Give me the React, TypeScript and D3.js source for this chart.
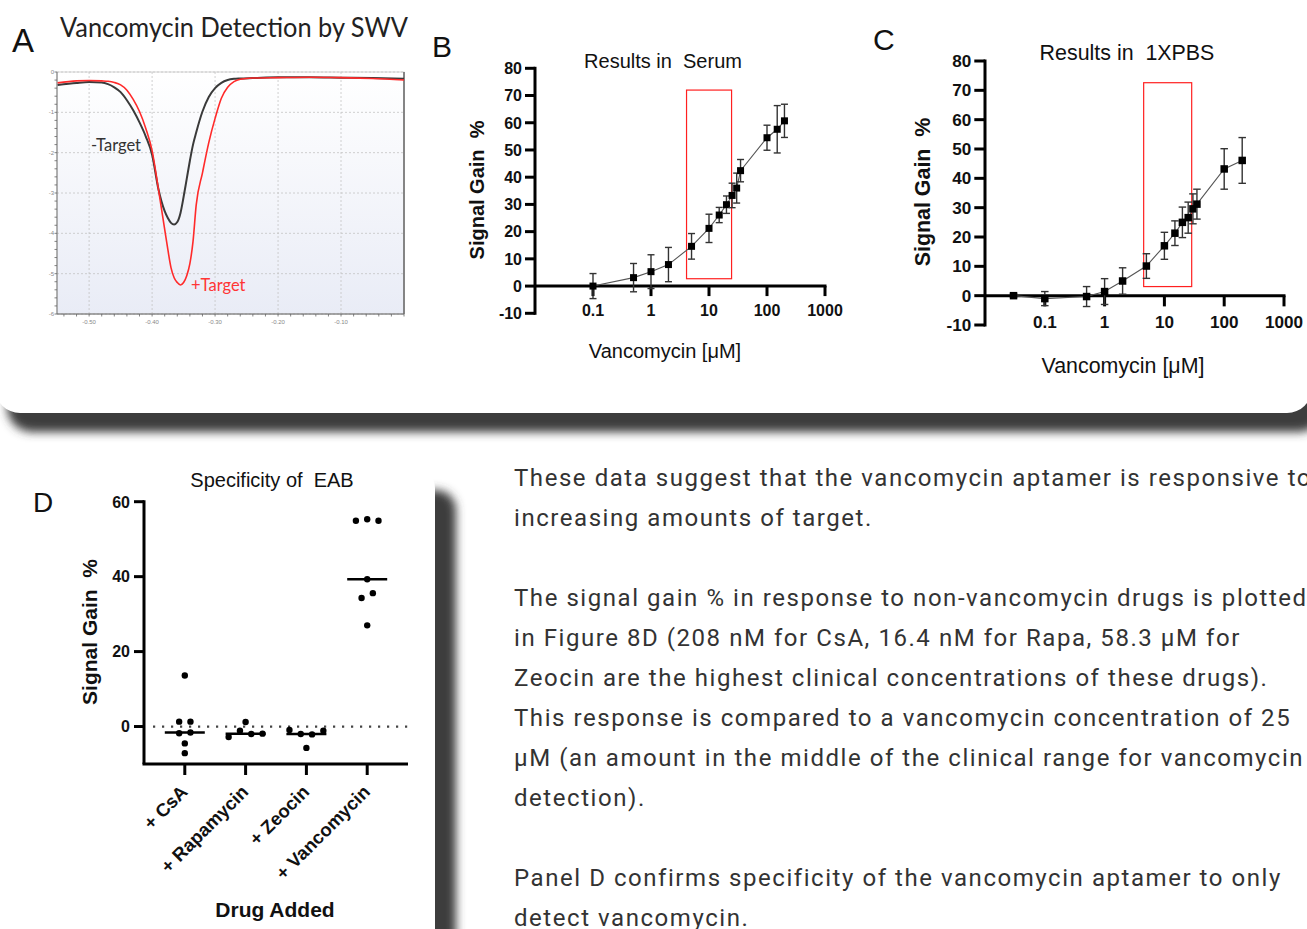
import React from "react";
import * as d3 from "d3";

const W = 1307;
const H = 929;

// ---------- Panel A : square wave voltammograms ----------
const swvPotential = [
  -0.55, -0.52, -0.5, -0.48, -0.47, -0.46, -0.45, -0.44, -0.43, -0.42, -0.41, -0.4, -0.39, -0.38,
  -0.375, -0.37, -0.365, -0.36, -0.355, -0.35, -0.345, -0.34, -0.335, -0.33, -0.32, -0.31, -0.3,
  -0.29, -0.28, -0.27, -0.26, -0.24, -0.2, -0.15, -0.1, -0.05, 0.0,
];
const swvNoTarget = [
  -0.32, -0.27, -0.25, -0.26, -0.3, -0.38, -0.5, -0.7, -0.95, -1.25, -1.6, -2.05, -2.9, -3.45,
  -3.62, -3.74, -3.78, -3.72, -3.5, -3.1, -2.65, -2.2, -1.8, -1.5, -0.98, -0.62, -0.4,
  -0.27, -0.2, -0.17, -0.16, -0.15, -0.13, -0.13, -0.14, -0.15, -0.17,
];
const swvTarget = [
  -0.27, -0.22, -0.21, -0.22, -0.23, -0.26, -0.32, -0.45, -0.68, -0.98, -1.4, -1.95, -2.9, -3.9,
  -4.4, -4.85, -5.1, -5.22, -5.28, -5.22, -5.05, -4.75, -4.2, -3.3, -2.5, -1.75, -1.15,
  -0.65, -0.38, -0.24, -0.18, -0.15, -0.14, -0.13, -0.14, -0.16, -0.2,
];
const swvXTicks = [-0.5, -0.4, -0.3, -0.2, -0.1];
const swvXTickLabels = ["-0.50", "-0.40", "-0.30", "-0.20", "-0.10"];
const swvYTicks = [0, -1, -2, -3, -4, -5, -6];

// ---------- Panel B : serum ----------
const serumConc = [0.1, 0.5, 1, 2, 5, 10, 15, 20, 25, 30, 35, 100, 150, 200];
const serumGain = [0, 3.1, 5.3, 7.9, 14.6, 21.2, 26.1, 29.9, 33.3, 36.0, 42.4, 54.5, 57.6, 60.7];
const serumErr = [4.6, 5.2, 6.2, 6.3, 4.7, 5.2, 2.8, 3.2, 4.5, 5.5, 4.1, 4.6, 8.7, 6.1];
const serumWindowConc = [4.1, 24.5];
const serumWindowGain = [2.7, 72];

// ---------- Panel C : 1X PBS ----------
const pbsConc = [0.03, 0.1, 0.5, 1, 2, 5, 10, 15, 20, 25, 30, 35, 100, 200];
const pbsGain = [0, -1.0, -0.3, 1.4, 5.0, 10.1, 17.0, 21.3, 25.0, 26.6, 29.6, 31.2, 43.2, 46.1];
const pbsErr = [0.6, 2.4, 3.4, 4.4, 4.5, 4.2, 4.6, 4.2, 5.2, 5.3, 5.1, 5.1, 6.9, 7.8];
const pbsWindowConc = [4.5, 28.6];
const pbsWindowGain = [3.1, 72.6];

const doseTicks = [0.1, 1, 10, 100, 1000];
const doseTickLabels = ["0.1", "1", "10", "100", "1000"];
const gainTicks = [-10, 0, 10, 20, 30, 40, 50, 60, 70, 80];

// ---------- Panel D : specificity ----------
const drugs = ["+ CsA", "+ Rapamycin", "+ Zeocin", "+ Vancomycin"];
const csaGain = [13.6, 1.3, 1.3, -1.8, -1.6, -4.5, -7.1];
const rapaGain = [-2.8, -1.1, 1.2, -2.0, -1.9];
const zeoGain = [-0.9, -2.0, -2.1, -1.1, -5.7];
const vancGain = [54.9, 55.3, 54.9, 39.3, 34.3, 35.6, 27.0];
const specTicks = [0, 20, 40, 60];

// ---------- Text ----------
const paragraphLines = [
  "These data suggest that the vancomycin aptamer is responsive to",
  "increasing amounts of target.",
  "",
  "The signal gain % in response to non-vancomycin drugs is plotted",
  "in Figure 8D (208 nM for CsA, 16.4 nM for Rapa, 58.3 μM for",
  "Zeocin are the highest clinical concentrations of these drugs).",
  "This response is compared to a vancomycin concentration of 25",
  "μM (an amount in the middle of the clinical range for vancomycin",
  "detection).",
  "",
  "Panel D confirms specificity of the vancomycin aptamer to only",
  "detect vancomycin.",
];

const ARIAL = "'Liberation Sans', Arial, sans-serif";
const CALI = "Lato, 'Open Sans', sans-serif";

function PanelA() {
  const x = d3.scaleLinear().domain([-0.551, 0]).range([57, 404]);
  const y = d3.scaleLinear().domain([0, -6]).range([72, 314]);
  const mk = (vals: number[]) =>
    d3
      .line<number>()
      .x((_, i) => x(swvPotential[i]))
      .y((d) => y(d))
      .curve(d3.curveMonotoneX)(vals) as string;
  const minorY = d3.range(0, -6.001, -0.2);
  const minorX = d3.range(-0.54, 0.001, 0.02);
  const [x0, x1] = x.range();
  const [y0, y1] = y.range();
  return (
    <g>
      <defs>
        <linearGradient id="aBg" x1="0" y1="0" x2="0" y2="1">
          <stop offset="0" stopColor="#ffffff" />
          <stop offset="1" stopColor="#e9ecf6" />
        </linearGradient>
      </defs>
      <text x={12} y={52} fontFamily={ARIAL} fontSize={33} fill="#111">A</text>
      <text x={60} y={37} fontFamily={CALI} fontSize={26} fill="#222" textLength={348} lengthAdjust="spacingAndGlyphs">
        Vancomycin Detection by SWV
      </text>
      <rect x={x0} y={y0} width={x1 - x0} height={y1 - y0} fill="url(#aBg)" stroke="#d4d4d4" strokeWidth={1} />
      {swvYTicks.map((t) => (
        <line key={"gy" + t} x1={x0} x2={x1} y1={y(t)} y2={y(t)} stroke="#c4c4c4" strokeDasharray="2 2" strokeWidth={0.8} />
      ))}
      {swvXTicks.map((t) => (
        <line key={"gx" + t} x1={x(t)} x2={x(t)} y1={y0} y2={y1} stroke="#c4c4c4" strokeDasharray="2 2" strokeWidth={0.8} />
      ))}
      <line x1={x1} x2={x1} y1={y0} y2={y1} stroke="#7a7a7a" strokeWidth={1.8} />
      <line x1={x0} x2={x0} y1={y0} y2={y1} stroke="#777" strokeWidth={1} />
      <line x1={x0} x2={x1} y1={y1} y2={y1} stroke="#666" strokeWidth={1.2} />
      {minorY.map((t, i) => (
        <line key={"my" + i} x1={x0 - 2.5} x2={x0} y1={y(t)} y2={y(t)} stroke="#666" strokeWidth={0.8} />
      ))}
      {minorX.map((t, i) => (
        <line key={"mx" + i} x1={x(t)} x2={x(t)} y1={y1} y2={y1 + 2.5} stroke="#666" strokeWidth={0.8} />
      ))}
      {swvYTicks.map((t) => (
        <text key={"ly" + t} x={x0 - 3} y={y(t) + 2} fontSize={6} fontFamily={ARIAL} fill="#888" textAnchor="end">
          {t}
        </text>
      ))}
      {swvXTicks.map((t, i) => (
        <text key={"lx" + t} x={x(t)} y={y1 + 10} fontSize={6} fontFamily={ARIAL} fill="#888" textAnchor="middle">
          {swvXTickLabels[i]}
        </text>
      ))}
      <path d={mk(swvNoTarget)} fill="none" stroke="#3a3a3a" strokeWidth={2} strokeLinejoin="round" />
      <path d={mk(swvTarget)} fill="none" stroke="#ff2a2a" strokeWidth={1.6} strokeLinejoin="round" />
      <text x={91} y={151} fontFamily={CALI} fontSize={16.5} fill="#333">-Target</text>
      <text x={191} y={291} fontFamily={CALI} fontSize={16.5} fill="#ff3535">+Target</text>
    </g>
  );
}

type DoseProps = {
  conc: number[];
  gain: number[];
  err: number[];
  winConc: number[];
  winGain: number[];
  xr: [number, number];
  yr: [number, number];
  k: number;
  letter: string;
  letterPos: [number, number];
  title: string;
  titlePos: [number, number];
  yLabelPos: [number, number];
  xLabelPos: [number, number];
  xTickDy: number;
};

function DosePanel(p: DoseProps) {
  const x = d3.scaleLog().domain([0.01, 1000]).range(p.xr);
  const y = d3.scaleLinear().domain([-10, 80]).range(p.yr);
  const line = d3
    .line<number>()
    .x((_, i) => x(p.conc[i]))
    .y((d) => y(d))(p.gain) as string;
  const ax = p.xr[0];
  const tickLen = 10 * p.k;
  const fs = 16 * p.k;
  const cap = 3.5 * p.k;
  const sq = 7 * p.k;
  return (
    <g>
      <text x={p.letterPos[0]} y={p.letterPos[1]} fontFamily={ARIAL} fontSize={30} fill="#111">{p.letter}</text>
      <text x={p.titlePos[0]} y={p.titlePos[1]} fontFamily={ARIAL} fontSize={20 * p.k} fill="#111" textAnchor="middle" style={{ whiteSpace: "pre" }}>
        {p.title}
      </text>
      <rect
        x={x(p.winConc[0])}
        y={y(p.winGain[1])}
        width={x(p.winConc[1]) - x(p.winConc[0])}
        height={y(p.winGain[0]) - y(p.winGain[1])}
        fill="none"
        stroke="#ff2020"
        strokeWidth={1.2}
      />
      <line x1={ax} x2={ax} y1={y(80) - 1.5} y2={y(-10) + 1.5} stroke="#000" strokeWidth={3} />
      <line x1={ax} x2={p.xr[1] + 1.5} y1={y(0)} y2={y(0)} stroke="#000" strokeWidth={3} />
      {gainTicks.map((t) => (
        <g key={"yt" + t}>
          <line x1={ax - tickLen} x2={ax} y1={y(t)} y2={y(t)} stroke="#000" strokeWidth={3} />
          <text x={ax - tickLen - 3} y={y(t) + fs * 0.36} fontFamily={ARIAL} fontWeight="bold" fontSize={fs} textAnchor="end" fill="#111">
            {t}
          </text>
        </g>
      ))}
      {doseTicks.map((t, i) => (
        <g key={"xt" + t}>
          <line x1={x(t)} x2={x(t)} y1={y(0)} y2={y(0) + tickLen} stroke="#000" strokeWidth={3} />
          <text x={x(t)} y={y(0) + p.xTickDy} fontFamily={ARIAL} fontWeight="bold" fontSize={fs} textAnchor="middle" fill="#111">
            {doseTickLabels[i]}
          </text>
        </g>
      ))}
      <path d={line} fill="none" stroke="#555" strokeWidth={1.1} />
      {p.conc.map((c, i) => {
        const cx = x(c);
        const top = y(p.gain[i] + p.err[i]);
        const bot = y(p.gain[i] - p.err[i]);
        return (
          <g key={"pt" + i} stroke="#333" strokeWidth={1.4}>
            <line x1={cx} x2={cx} y1={top} y2={bot} />
            <line x1={cx - cap} x2={cx + cap} y1={top} y2={top} />
            <line x1={cx - cap} x2={cx + cap} y1={bot} y2={bot} />
            <rect x={cx - sq / 2} y={y(p.gain[i]) - sq / 2} width={sq} height={sq} fill="#000" stroke="none" />
          </g>
        );
      })}
      <text
        transform={`translate(${p.yLabelPos[0]},${p.yLabelPos[1]}) rotate(-90)`}
        fontFamily={ARIAL}
        fontWeight="bold"
        fontSize={20 * p.k}
        textAnchor="middle"
        fill="#111"
        style={{ whiteSpace: "pre" }}
      >
        {"Signal Gain  %"}
      </text>
      <text x={p.xLabelPos[0]} y={p.xLabelPos[1]} fontFamily={ARIAL} fontSize={20 * p.k} textAnchor="middle" fill="#111">
        Vancomycin [μM]
      </text>
    </g>
  );
}

function swarmOffsets(values: number[], y: (v: number) => number, spacing: number, rowGap: number) {
  const order = values.map((_, i) => i).sort((a, b) => values[b] - values[a]);
  const rows: number[][] = [];
  let cur: number[] = [];
  let startY = 0;
  order.forEach((i) => {
    const py = y(values[i]);
    if (cur.length && Math.abs(py - startY) <= rowGap) cur.push(i);
    else {
      if (cur.length) rows.push(cur);
      cur = [i];
      startY = py;
    }
  });
  if (cur.length) rows.push(cur);
  const off = values.map(() => 0);
  rows.forEach((r) => {
    const s = [...r].sort((a, b) => a - b);
    s.forEach((i, k) => (off[i] = (k - (s.length - 1) / 2) * spacing));
  });
  return off;
}

function PanelD() {
  const groups = [csaGain, rapaGain, zeoGain, vancGain];
  const x = d3.scalePoint<string>().domain(drugs).range([144, 408]).padding(0.671);
  const y = d3.scaleLinear().domain([-10, 60]).range([764, 501.7]);
  const y0 = y(-10);
  return (
    <g>
      <text x={33} y={512} fontFamily={ARIAL} fontSize={28} fill="#111">D</text>
      <text x={272} y={487} fontFamily={ARIAL} fontSize={20} textAnchor="middle" fill="#111" style={{ whiteSpace: "pre" }}>
        {"Specificity of  EAB"}
      </text>
      <line x1={153} x2={408} y1={y(0)} y2={y(0)} stroke="#444" strokeWidth={2.2} strokeDasharray="2.2 6.8" />
      <line x1={144} x2={144} y1={y(60) - 1.5} y2={y0} stroke="#000" strokeWidth={3} />
      <line x1={142.5} x2={408} y1={y0} y2={y0} stroke="#000" strokeWidth={3} />
      {specTicks.map((t) => (
        <g key={"dy" + t}>
          <line x1={134} x2={144} y1={y(t)} y2={y(t)} stroke="#000" strokeWidth={3} />
          <text x={130} y={y(t) + 5.8} fontFamily={ARIAL} fontWeight="bold" fontSize={16} textAnchor="end" fill="#111">
            {t}
          </text>
        </g>
      ))}
      {drugs.map((d) => (
        <g key={d}>
          <line x1={x(d)!} x2={x(d)!} y1={y0} y2={y0 + 11} stroke="#000" strokeWidth={3} />
          <text
            transform={`translate(${x(d)! + 4},${y0 + 29}) rotate(-45)`}
            fontFamily={ARIAL}
            fontWeight="bold"
            fontSize={18.5}
            textAnchor="end"
            fill="#111"
          >
            {d}
          </text>
        </g>
      ))}
      {groups.map((vals, gi) => {
        const cx = x(drugs[gi])!;
        const off = swarmOffsets(vals, y, 11.3, 7);
        const med = d3.median(vals) as number;
        return (
          <g key={"g" + gi}>
            <line x1={cx - 20} x2={cx + 20} y1={y(med)} y2={y(med)} stroke="#000" strokeWidth={2.5} />
            {vals.map((v, i) => (
              <circle key={i} cx={cx + off[i]} cy={y(v)} r={3.2} fill="#000" />
            ))}
          </g>
        );
      })}
      <text
        transform="translate(97,632) rotate(-90)"
        fontFamily={ARIAL}
        fontWeight="bold"
        fontSize={21}
        textAnchor="middle"
        fill="#111"
        style={{ whiteSpace: "pre" }}
      >
        {"Signal Gain  %"}
      </text>
      <text x={275} y={917} fontFamily={ARIAL} fontWeight="bold" fontSize={21} textAnchor="middle" fill="#111">
        Drug Added
      </text>
    </g>
  );
}

export default function App() {
  return (
    <svg width={W} height={H} viewBox={`0 0 ${W} ${H}`} style={{ position: "absolute", left: 0, top: 0, background: "#fff" }}>
      <defs>
        <filter id="shadowBlur" x="-10%" y="-10%" width="120%" height="130%">
          <feGaussianBlur stdDeviation="5" />
        </filter>
      </defs>
      <rect x={0} y={0} width={W} height={H} fill="#fff" />
      <rect x={7} y={-31} width={1317} height={463} rx={25} fill="#3e3e3e" filter="url(#shadowBlur)" />
      <rect x={-5} y={-50} width={1317} height={463} rx={25} fill="#fff" />
      <rect x={-9} y={490} width={465} height={600} rx={20} fill="#3e3e3e" filter="url(#shadowBlur)" />
      <rect x={-30} y={468} width={465} height={600} rx={20} fill="#fff" />

      <PanelA />
      <DosePanel
        conc={serumConc}
        gain={serumGain}
        err={serumErr}
        winConc={serumWindowConc}
        winGain={serumWindowGain}
        xr={[535, 825]}
        yr={[313.3, 68.3]}
        k={1}
        letter="B"
        letterPos={[432, 57]}
        title={"Results in  Serum"}
        titlePos={[663, 68]}
        yLabelPos={[484, 190]}
        xLabelPos={[665, 358]}
        xTickDy={30}
      />
      <DosePanel
        conc={pbsConc}
        gain={pbsGain}
        err={pbsErr}
        winConc={pbsWindowConc}
        winGain={pbsWindowGain}
        xr={[985, 1284]}
        yr={[325, 61]}
        k={1.07}
        letter="C"
        letterPos={[873, 50]}
        title={"Results in  1XPBS"}
        titlePos={[1127, 60]}
        yLabelPos={[930, 192]}
        xLabelPos={[1123, 373]}
        xTickDy={32.6}
      />
      <PanelD />
      {paragraphLines.map((l, i) => (
        <text key={i} x={514} y={486 + i * 40} fontFamily="Roboto, sans-serif" fontSize={24} letterSpacing={1.55} fill="#333">
          {l}
        </text>
      ))}
    </svg>
  );
}
